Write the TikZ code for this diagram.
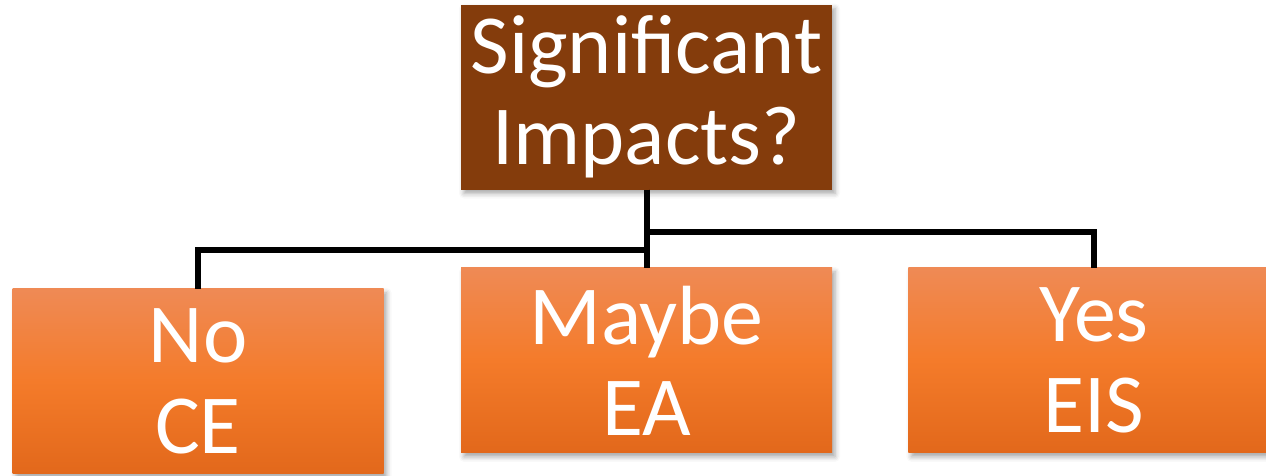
\documentclass[tikz,border=0pt]{standalone}
\usepackage{fontspec}
\setmainfont{Carlito}
\usetikzlibrary{positioning,calc,shadows.blur}
\definecolor{brownbox}{HTML}{843C0C}
\definecolor{orangetop}{HTML}{EF8A55}
\definecolor{orangemid}{HTML}{F47B2A}
\definecolor{orangebot}{HTML}{E2681B}
\tikzset{
      base/.style = {minimum width=371pt, minimum height=185pt, inner sep=0pt,
                     align=center, text=white,
                     font=\fontsize{84}{91}\selectfont,
                     blur shadow={shadow xshift=3pt, shadow yshift=-4pt,
                                  shadow blur radius=5pt, shadow opacity=35}},
  question/.style = {base, fill=brownbox},
    answer/.style = {base, top color=orangetop, bottom color=orangebot,
                     middle color=orangemid},
      conn/.style = {line width=6pt},
        }

\begin{document}
\begin{tikzpicture}[x=1pt,y=1pt]
\useasboundingbox (0,0) rectangle (1266,-475);
% question and the three answers
\node[question] (q0) at (646.5,-97) {Significant\\Impacts?};
\node[answer, below=78pt of q0] (r1) {Maybe\\EA};
\node[answer, right=76pt of r1] (r2) {Yes\\EIS};
\node[answer, left=77pt of r1, yshift=-21pt] (r0) {No\\CE};
% elbow connectors
\draw[conn] (q0.south) -- ++(0,-42) -| (r2.north);
\draw[conn] (q0.south) -- ++(0,-60) -| (r0.north);
\draw[conn] (q0.south) -- (r1.north);
\end{tikzpicture}
\end{document}
